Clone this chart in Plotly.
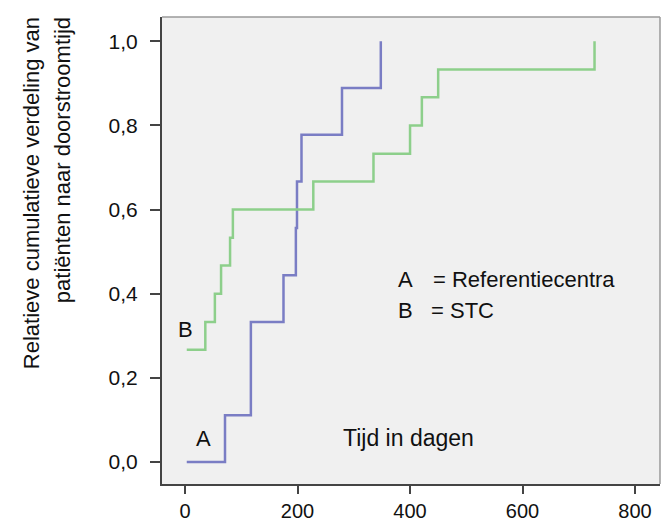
import plotly.graph_objects as go

# Series A (Referentiecentra): step times (days) and cumulative fraction after step
A_days = [3, 71, 117, 175, 197, 199, 207, 279, 348]
A_frac = [0.0, 0.111, 0.333, 0.444, 0.556, 0.667, 0.778, 0.889, 1.0]

# Series B (STC)
B_days = [3, 36, 53, 64, 80, 85, 228, 335, 400, 421, 450, 728]
B_frac = [0.267, 0.333, 0.4, 0.467, 0.533, 0.6, 0.667, 0.733, 0.8, 0.867, 0.933, 1.0]

x_ticks = [0, 200, 400, 600, 800]
y_ticks = [0.0, 0.2, 0.4, 0.6, 0.8, 1.0]

FONT = "Liberation Sans, Arial, Helvetica, sans-serif"
BLUE = "#7a7dc4"
GREEN = "#8dcf8b"

fig = go.Figure()
fig.add_trace(go.Scatter(x=A_days, y=A_frac, mode="lines", line_shape="hv",
                         line=dict(color=BLUE, width=2.5), showlegend=False))
fig.add_trace(go.Scatter(x=B_days, y=B_frac, mode="lines", line_shape="hv",
                         line=dict(color=GREEN, width=2.5), showlegend=False))

# page body has an 8px default margin, so the figure is 8px smaller than the window
fig.update_layout(
    width=661, height=511,
    margin=dict(l=154, r=9, t=9, b=35),
    paper_bgcolor="white", plot_bgcolor="#f0f0f0",
    separators=", ",
    font=dict(family=FONT, size=21, color="#111111"),
    xaxis=dict(range=[-41, 844.4], tickvals=x_ticks, showgrid=False, zeroline=False,
               automargin=False,
               showline=True, linecolor="#444444", linewidth=2,
               ticks="outside", ticklen=8, tickwidth=2, tickcolor="#444444",
               ticklabelstandoff=0, tickfont=dict(size=20)),
    yaxis=dict(range=[-0.0523, 1.0578], tickvals=y_ticks, tickformat=".1f",
               showgrid=False, zeroline=False, automargin=False,
               showline=True, linecolor="#444444", linewidth=2,
               ticks="outside", ticklen=10, tickwidth=2, tickcolor="#444444",
               ticklabelstandoff=8, tickfont=dict(size=21)),
)

# top and right frame lines (lighter)
fig.add_shape(type="line", xref="paper", yref="paper", x0=0, x1=1, y0=1, y1=1,
              line=dict(color="#9a9a9a", width=1.5))
fig.add_shape(type="line", xref="paper", yref="paper", x0=1, x1=1, y0=0, y1=1,
              line=dict(color="#9a9a9a", width=1.5))

def ann(text, x, y, xanchor="left", size=22, **kw):
    fig.add_annotation(text=text, x=x, y=y, xref="x", yref="y", showarrow=False,
                       xanchor=xanchor, yanchor="middle",
                       font=dict(family=FONT, size=size, color="#111111"), **kw)

ann("A", 375, 0.434)
ann("= Referentiecentra", 436.5, 0.434)
ann("B", 375, 0.361)
ann("= STC", 433.5, 0.361)
ann("Tijd in dagen", 277, 0.056, size=23)
ann("B", 0, 0.3145, xanchor="center")
ann("A", 32.4, 0.0554, xanchor="center")

for txt, xp in [("Relatieve cumulatieve verdeling van", -0.263),
                ("patiënten naar doorstroomtijd", -0.2008)]:
    fig.add_annotation(text=txt, xref="paper", yref="paper", x=xp, y=1.004,
                       xanchor="center", yanchor="top", textangle=-90,
                       showarrow=False, font=dict(family=FONT, size=22, color="#111111"))

fig.write_html("out.html")
